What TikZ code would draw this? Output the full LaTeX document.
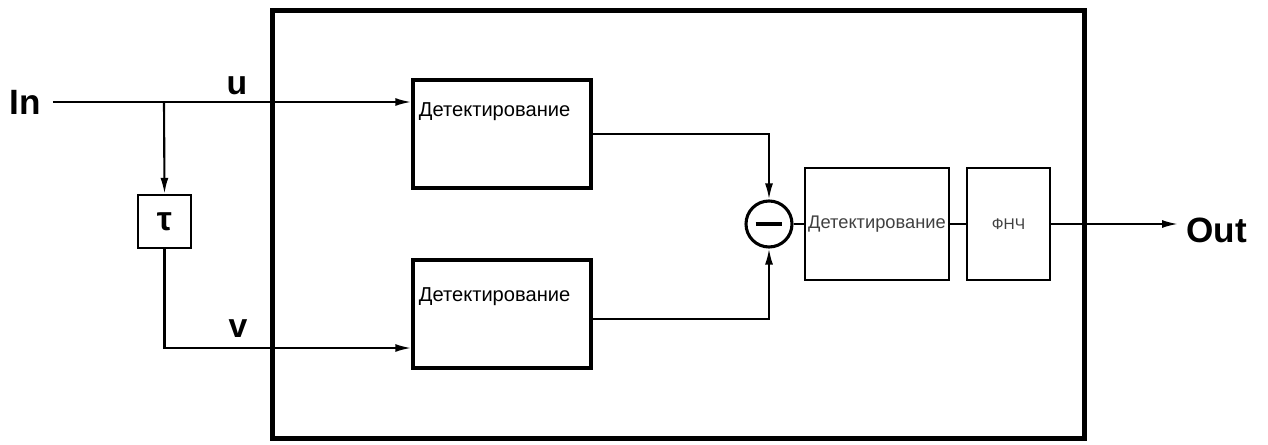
\documentclass[tikz,border=0pt]{standalone}
\usepackage{fontspec}
\setmainfont{Liberation Sans}
\usetikzlibrary{arrows.meta}
\definecolor{inkgray}{gray}{0.25}
\tikzset{
detbox/.style={
draw,
line width=2.4pt,
minimum width=4.45cm,
minimum height=2.7cm,
inner xsep=0.15cm,
inner ysep=0pt,
text width=4.15cm,
align=left,
font=\fontsize{14.3}{16}\selectfont
},
thinbox/.style={
draw,
line width=0.9pt,
minimum height=2.8cm,
inner sep=0pt,
text=inkgray
},
arrow/.style={
-{Latex[length=4mm,width=2mm]},
line width=1.5pt
},
wire/.style={
line width=1.5pt
},
biglabel/.style={
font=\fontsize{25}{28}\selectfont\bfseries
},
siglabel/.style={
font=\fontsize{24}{26}\selectfont\bfseries
}
}

\begin{document}
\begin{tikzpicture}[x=0.025cm,y=-0.025cm]
\useasboundingbox (0,0) rectangle (1268,445);

% outer unit
\node[draw,line width=3.6pt,minimum width=20.275cm,minimum height=10.675cm] (unit) at (678.5,224.5) {};

\node[biglabel] (in) at (25,102) {In};
\coordinate (split) at (164,102);
\node[siglabel] (u) at (237,86) {u};
\node[siglabel] (v) at (238,329) {v};
\node[draw,line width=1.8pt,minimum size=1.32cm,inner sep=0pt,siglabel] (tau) at (164.5,221.5) {τ};

\node[detbox,text height=0.925cm,text depth=1.775cm] (det1) at (502,134) {Детектирование};
\node[detbox,text height=1.05cm,text depth=1.65cm] (det2) at (502,314) {Детектирование};

\node[circle,draw,line width=2.2pt,minimum size=1.15cm,inner sep=0pt] (diff) at (769,224) {\rule{0.67cm}{2.8pt}};
\node[thinbox,minimum width=3.6cm,font=\fontsize{13}{15}\selectfont] (det3) at (877,224) {Детектирование};
\node[thinbox,minimum width=2.075cm,font=\fontsize{11}{13}\selectfont] (lpf) at (1008.5,224) {ФНЧ};
\node[biglabel,anchor=west,inner xsep=0.2cm,yshift=-0.15cm] (out) at (1178,224) {Out};

\draw[arrow] ([xshift=0.18cm]in.east) -- (in -| det1.west);
\draw[arrow] (split) -- (tau.north);
\draw[arrow] (tau.south) |- ([yshift=-0.85cm]det2.west);
\draw[arrow] (det1.east) -| (diff.north);
\draw[arrow] ([yshift=-0.125cm]det2.east) -| (diff.south);
\draw[wire] (diff.east) -- (det3.west);
\draw[wire] (det3.east) -- (lpf.west);
\draw[arrow] (lpf.east) -- (lpf.east -| out.west);
\end{tikzpicture}
\end{document}
